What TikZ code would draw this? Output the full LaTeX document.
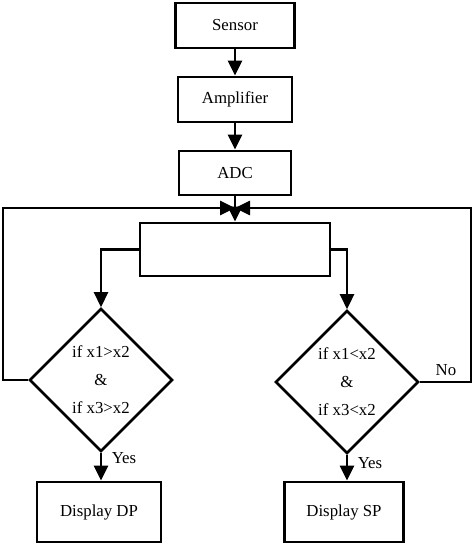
\documentclass[tikz,border=0pt]{standalone}
\usepackage{fontspec}
\setmainfont{Liberation Serif}
\usetikzlibrary{shapes.geometric,arrows.meta}
\begin{document}
\begin{tikzpicture}[x=1pt,y=-1pt,
  font=\fontsize{16.8}{28}\selectfont,
  box/.style={draw,line width=2.8pt,inner sep=0pt},
  dec/.style={draw,line width=2.6pt,shape=diamond,inner sep=0pt,aspect=1,align=center},
  arr/.style={line width=2.6pt,-{Triangle[length=15pt,width=14pt]}},
  ln/.style={line width=2.6pt}]
\useasboundingbox (0,0) rectangle (474,545);
\node[box,minimum width=119pt,minimum height=45pt] (sensor) at (235,25.5) {Sensor};
\node[box,minimum width=114pt,minimum height=45pt] (amp) at (235,99.5) {Amplifier};
\node[box,minimum width=112pt,minimum height=44pt] (adc) at (235,173) {ADC};
\node[box,minimum width=190pt,minimum height=53pt] (mid) at (235,249.5) {};
\node[dec,minimum width=143pt,minimum height=143pt] (ld) at (101,380) {if x1>x2\\\&\\if x3>x2};
\node[dec,minimum width=143pt,minimum height=143pt] (rd) at (347,382) {if x1<x2\\\&\\if x3<x2};
\node[box,minimum width=124pt,minimum height=60pt] (dp) at (99,512) {Display DP};
\node[box,minimum width=119pt,minimum height=60pt] (sp) at (344,512) {Display SP};
\coordinate (fb) at (235,208);
\coordinate (lc) at (3,380);
\coordinate (rc) at (471,382);
\draw[arr] (sensor) -- (amp);
\draw[arr] (amp) -- (adc);
\draw[arr] (adc) -- (mid);
\draw[arr] (mid.west) -| (ld.north);
\draw[arr] (mid.east) -| (rd.north);
\draw[arr] (ld.west) -- (lc) |- (fb);
\draw[arr] (rd.east) -- (rc) |- (fb);
\draw[arr] (ld.south) -- (ld.south |- dp.north);
\draw[arr] (rd.south) -- (rd.south |- sp.north);
\node (yes1) at (124,458) {Yes};
\node (yes2) at (370,463) {Yes};
\node (no) at (446,370) {No};
\end{tikzpicture}
\end{document}
